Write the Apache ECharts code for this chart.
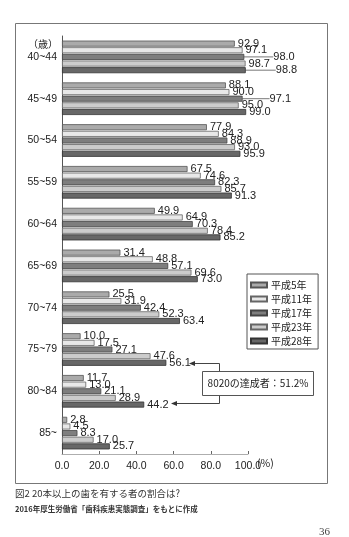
<!DOCTYPE html>
<html><head><meta charset="utf-8">
<script src="https://cdn.jsdelivr.net/npm/echarts@6/dist/echarts.min.js"></script>
<style>html,body{margin:0;padding:0;background:#fff}#c{width:349px;height:537px}</style>
</head><body><div id="c"></div>
<script>
const categories = ['40~44','45~49','50~54','55~59','60~64','65~69','70~74','75~79','80~84','85~'];
const seriesNames = ['平成5年','平成11年','平成17年','平成23年','平成28年'];
const h5  = [92.9, 88.1, 77.9, 67.5, 49.9, 31.4, 25.5, 10.0, 11.7, 2.8];
const h11 = [97.1, 90.0, 84.3, 74.6, 64.9, 48.8, 31.9, 17.5, 13.0, 4.5];
const h17 = [98.0, 97.1, 88.9, 82.3, 70.3, 57.1, 42.4, 27.1, 21.1, 8.3];
const h23 = [98.7, 95.0, 93.0, 85.7, 78.4, 69.6, 52.3, 47.6, 28.9, 17.0];
const h28 = [98.8, 99.0, 95.9, 91.3, 85.2, 73.0, 63.4, 56.1, 44.2, 25.7];
const xTicks = [0, 20, 40, 60, 80, 100];

const values = [h5, h11, h17, h23, h28];
const fills = ['#aaaaaa', '#e8e8e8', '#7e7e7e', '#cccccc', '#676767'];
const borders = ['#555', '#666', '#444', '#666', '#333'];
// labels pushed right with a leader line: key "series-index" -> dx
const nudges = {'2-0': 26, '4-0': 27, '2-1': 24};

const chart = echarts.init(document.getElementById('c'), null, {renderer: 'canvas'});
const FONT = 'Liberation Sans, Arial, sans-serif';
const CJK = 'Noto Sans CJK JP, sans-serif';

const series = seriesNames.map((name, s) => ({
  name, type: 'bar',
  data: values[s].map((v, i) => {
    const key = s + '-' + i;
    if (nudges[key]) return {value: v, labelLine: {show: true}};
    return {value: v};
  }),
  barCategoryGap: '22%', barGap: '10%',
  itemStyle: {color: fills[s], borderColor: borders[s], borderWidth: 0.8},
  label: {show: true, position: 'right', distance: 3, offset: [0, -1],
    formatter: p => p.value.toFixed(1), fontFamily: FONT, fontSize: 11, color: '#222'},
  labelLine: {show: false, lineStyle: {color: '#555', width: 0.8}},
  labelLayout: p => {
    const d = nudges[p.seriesIndex + '-' + p.dataIndex];
    return d ? {dx: d} : {};
  },
  emphasis: {disabled: true},
  animation: false
}));

chart.setOption({
  animation: false,
  grid: {left: 62, right: 101, top: 36, bottom: 83, containLabel: false},
  xAxis: {type: 'value', min: 0, max: 100, interval: 20,
    axisLine: {show: true, lineStyle: {color: '#999', width: 0.8}},
    axisTick: {show: true, inside: true, length: 3, lineStyle: {color: '#666'}},
    splitLine: {show: false},
    axisLabel: {margin: 7, fontFamily: FONT, fontSize: 10.5, color: '#222',
      formatter: v => xTicks.includes(v) ? v.toFixed(1) : ''}},
  yAxis: {type: 'category', data: categories, inverse: true,
    axisLine: {show: true, lineStyle: {color: '#555', width: 1}},
    axisTick: {show: false},
    axisLabel: {margin: 5, fontFamily: FONT, fontSize: 10.5, color: '#222'}},
  legend: {orient: 'vertical', left: 247, top: 274, data: seriesNames,
    icon: 'rect', itemWidth: 16, itemHeight: 5, itemGap: 4,
    padding: [6, 6, 3, 3], borderColor: '#555', borderWidth: 1,
    backgroundColor: '#fff',
    textStyle: {fontFamily: CJK, fontSize: 10, color: '#222', padding: [0, 0, 0, -1]}},
  series,
  graphic: [
    {type: 'rect', shape: {x: 15.5, y: 23.5, width: 312, height: 460}, style: {fill: 'none', stroke: '#777', lineWidth: 1}, silent: true, z: -1},
    {type: 'text', x: 58, y: 44, style: {text: '（歳）', fontFamily: CJK, fontSize: 10, fill: '#222', align: 'right', verticalAlign: 'middle'}},
    {type: 'text', x: 257, y: 463, style: {text: '(%)', fontFamily: CJK, fontSize: 10.5, fill: '#222', align: 'left', verticalAlign: 'middle'}},
    {type: 'rect', shape: {x: 202.5, y: 371.5, width: 111, height: 24}, style: {fill: '#fff', stroke: '#555', lineWidth: 1}},
    {type: 'text', x: 258, y: 383.5, style: {text: '8020の達成者：51.2%', fontFamily: CJK, fontSize: 10, fill: '#222', align: 'center', verticalAlign: 'middle'}},
    {type: 'polyline', shape: {points: [[219.5, 371], [219.5, 363.5], [193, 363.5]]}, style: {stroke: '#444', lineWidth: 1, fill: 'none'}},
    {type: 'polygon', shape: {points: [[189, 363.5], [195, 361], [195, 366]]}, style: {fill: '#333'}},
    {type: 'polyline', shape: {points: [[219.5, 396], [219.5, 403.5], [175, 403.5]]}, style: {stroke: '#444', lineWidth: 1, fill: 'none'}},
    {type: 'polygon', shape: {points: [[171, 403.5], [177, 401], [177, 406]]}, style: {fill: '#333'}},
    {type: 'text', x: 15, y: 493, style: {text: '図2 20本以上の歯を有する者の割合は?', fontFamily: CJK, fontSize: 9.5, fill: '#333', verticalAlign: 'middle'}},
    {type: 'text', x: 15, y: 509, style: {text: '2016年厚生労働省「歯科疾患実態調査」をもとに作成', fontFamily: CJK, fontSize: 7.5, fontWeight: 'bold', fill: '#333', verticalAlign: 'middle'}},
    {type: 'text', x: 330, y: 532, style: {text: '36', fontFamily: 'Liberation Serif, serif', fontSize: 11, fill: '#444', align: 'right', verticalAlign: 'middle'}}
  ]
});
</script></body></html>
